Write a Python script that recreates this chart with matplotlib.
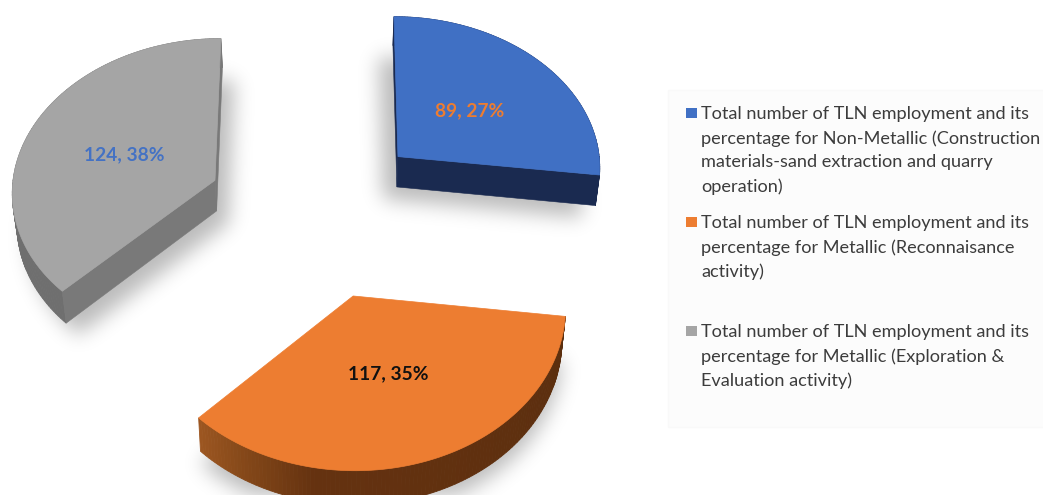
import numpy as np
import matplotlib
matplotlib.use("Agg")
import matplotlib.pyplot as plt
from matplotlib.patches import Polygon, Rectangle
from matplotlib.path import Path
from matplotlib.colors import to_rgb

# ---- data ----
values = [89, 117, 124]
percents = [27, 35, 38]
colors = ["#4070c4", "#ed7d31", "#a5a5a5"]
label_colors = ["#ed7d31", "#111111", "#4472c4"]
legend_labels = [
    ["Total number of TLN employment and its",
     "percentage for Non-Metallic (Construction",
     "materials-sand extraction and quarry",
     "operation)"],
    ["Total number of TLN employment and its",
     "percentage for Metallic (Reconnaisance",
     "activity)"],
    ["Total number of TLN employment and its",
     "percentage for Metallic (Exploration &",
     "Evaluation activity)"],
]

# ---- layout of the exploded perspective pie ----
W, H = 1043, 495
X0, YH, C, D = 324.0, -2436.0, 2436.0, 3526.0   # perspective model
radii = [189.0, 189.0, 188.0]
centers = [(69.5, 213.0), (26.0, 382.0), (-101.5, 243.0)]
shadow_off = [(-14, 12), (0, 12), (12, 12)]
label_pos = [(470, 111), (388, 374), (124, 155)]
DEPTH = 28.5
XSHRINK = 0.985
START = 90.0


def project(u, v):
    s = 1.0 / (1.0 - np.asarray(v) / D)
    return X0 + np.asarray(u) * s, YH + C * s, s


def lower(x, y, s):
    return X0 + (x - X0) * XSHRINK, y + DEPTH * s


side_colors = {
    0: [(-360, "#1a2a52"), (360, "#1a2a52")],
    1: [(-136, "#a05822"), (-115, "#7e4417"), (-100, "#653210"), (0, "#5a2e0e")],
    2: [(-360, "#6f6f6f"), (360, "#6f6f6f")],
}
radial_colors = ["#1a2a50", None, "#797979"]


def side_col(i, t):
    pts = side_colors[i]
    ts = [p[0] for p in pts]
    rgb = np.array([to_rgb(p[1]) for p in pts])
    return tuple(np.interp(t, ts, rgb[:, k]) for k in range(3))


fig = plt.figure(figsize=(W / 100, H / 100), dpi=100)
ax = fig.add_axes([0, 0, 1, 1])
ax.set_xlim(0, W)
ax.set_ylim(H, 0)
ax.axis("off")

total = sum(values)
angles = START - np.cumsum([0] + values) / total * 360.0

# soft shadows
yy, xx = np.mgrid[0:H, 0:W]
grid = np.column_stack([xx.ravel() + 0.5, yy.ravel() + 0.5])
mask = np.zeros((H, W))
geoms = []
for i in range(3):
    t = np.radians(np.linspace(angles[i], angles[i + 1], 120))
    cu, cv = centers[i]
    u = np.r_[cu, cu + radii[i] * np.cos(t)]
    v = np.r_[cv, cv - radii[i] * np.sin(t)]
    x, y, s = project(u, v)
    xl, yl = lower(x, y, s)
    geoms.append((t, x, y, s, xl, yl))
    ox, oy = shadow_off[i]
    poly = np.column_stack([xl + ox, yl + oy])
    m = Path(poly).contains_points(grid).reshape(H, W)
    mask = np.maximum(mask, m.astype(float))
kx = np.exp(-0.5 * (np.arange(-30, 31) / 10.0) ** 2)
kx /= kx.sum()
blur = np.apply_along_axis(lambda r: np.convolve(r, kx, mode="same"), 1, mask)
blur = np.apply_along_axis(lambda r: np.convolve(r, kx, mode="same"), 0, blur)
rgba = np.zeros((H, W, 4))
rgba[..., 3] = blur * 0.27
ax.imshow(rgba, extent=(0, W, H, 0), zorder=1, interpolation="bilinear", aspect="auto")
ax.set_xlim(0, W)
ax.set_ylim(H, 0)

# wedges
for i in range(3):
    t, x, y, s, xl, yl = geoms[i]
    z = 2 + i * 0.1
    deg = np.degrees(t)
    # outer rim in facets, shaded along the arc
    for j in range(1, len(x) - 1):
        c = side_col(i, deg[j - 1])
        ax.add_patch(Polygon([(x[j], y[j]), (x[j + 1], y[j + 1]),
                              (xl[j + 1], yl[j + 1]), (xl[j], yl[j])],
                             closed=True, fc=c, ec=c, lw=0.6, zorder=z))
    # cut faces that look towards the viewer
    if radial_colors[i] is not None:
        for j in (1, len(x) - 1):
            ax.add_patch(Polygon([(x[0], y[0]), (x[j], y[j]), (xl[j], yl[j]), (xl[0], yl[0])],
                                 closed=True, fc=radial_colors[i], ec=radial_colors[i],
                                 lw=0.4, zorder=z + 0.01))
    # top face
    ax.add_patch(Polygon(np.column_stack([x, y]), closed=True, fc=colors[i],
                         ec=colors[i], lw=0.5, zorder=z + 0.02))
    ax.text(label_pos[i][0], label_pos[i][1], f"{values[i]}, {percents[i]}%",
            color=label_colors[i], family="Lato", weight="bold", fontsize=13.8,
            ha="center", va="center", zorder=5)

# legend panel
ax.add_patch(Rectangle((668, 90), 380, 337, fc="#fcfcfc", ec="#f9f9f9", lw=1, zorder=1.5))
legend_y = [[113, 137.5, 161.5, 186], [222, 246.5, 271], [331, 355.5, 380]]
for i, lines in enumerate(legend_labels):
    ax.add_patch(Rectangle((686, legend_y[i][0] - 5.5), 10.5, 10.5, fc=colors[i], ec="none", zorder=3))
    for txt, yp in zip(lines, legend_y[i]):
        ax.text(701, yp + 0.8, txt, color="#3c3c3c", family="Lato", fontsize=13.1,
                ha="left", va="center", zorder=3)

fig.savefig("out.png", dpi=100)
